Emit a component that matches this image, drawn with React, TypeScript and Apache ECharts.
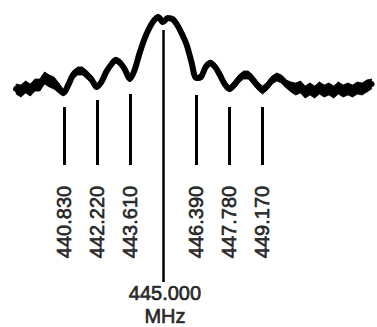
import React, { useEffect, useRef } from "react";
import * as echarts from "echarts";

// Spectrum trace sampled every 0.2 MHz starting at 438.8 MHz (relative amplitude)
const traceStartMHz = 438.8;
const traceStepMHz = 0.2;
const traceAmplitude = [
  1, -1, 3, 0, 5, 5, 12, 9, 7, 2,
  -3, 5, 15, 19, 19, 15, 10, 3, 8, 18,
  25, 30, 27, 20, 11, 20, 36, 50, 61, 69,
  73, 68, 72, 71, 65, 56, 45, 28, 12, 13,
  23, 27, 23, 15, 6, 1, 5, 11, 15, 15,
  10, 4, 0, 4, 10, 13, 11, 6, 3, 1,
  3, -2, 1, -2, 2, -1, 1, -2, 2, -1,
  1, -1, 2, 1, 4, 6,
];
// Half-width of the noise envelope around the trace at each sample
const traceNoise = [
  5, 6, 6, 6, 6, 6, 6, 6, 6, 5,
  3, 3, 4, 4, 4, 4, 4, 3, 3, 3,
  3, 3, 3, 3, 3, 2, 2, 2, 2, 2,
  2, 2, 2, 2, 2, 2, 2, 2, 2, 3,
  3, 3, 3, 3, 3, 3, 4, 4, 4, 4,
  4, 4, 4, 4, 4, 4, 4, 4, 5, 6,
  6, 6, 6, 6, 6, 6, 6, 6, 6, 6,
  6, 6, 6, 6, 6, 5,
];

// Marker lines (frequency in MHz)
const markerFreqs = [440.83, 442.22, 443.61, 445.0, 446.39, 447.78, 449.17];
const markerTop = [-17, -10, -4, 60, -5, -17, -17];
const markerBottom = [-75, -75, -75, -192, -75, -75, -75];
const markerLabels = ["440.830", "442.220", "443.610", "", "446.390", "447.780", "449.170"];
const centerLabel = "445.000\nMHz";

export default function App() {
  const ref = useRef<HTMLDivElement>(null);
  useEffect(() => {
    if (!ref.current) return;
    const chart = echarts.init(ref.current, null, { renderer: "svg" });
    const fx = (i: number) => +(traceStartMHz + i * traceStepMHz).toFixed(3);
    const trace = traceAmplitude.map((v, i) => [fx(i), v]);
    const band: number[][] = [];
    for (let i = 0; i < traceAmplitude.length - 1; i++) {
      band.push([
        fx(i),
        traceAmplitude[i] - traceNoise[i],
        traceAmplitude[i] + traceNoise[i],
        fx(i + 1),
        traceAmplitude[i + 1] - traceNoise[i + 1],
        traceAmplitude[i + 1] + traceNoise[i + 1],
      ]);
    }
    const lines = markerFreqs.map((f, i) => [
      { coord: [f, markerTop[i]], lineStyle: { width: i === 3 ? 2.5 : 3 } },
      { coord: [f, markerBottom[i]] },
    ]);
    const labelPts = markerFreqs
      .map((f, i) => ({ value: [f, -132], name: markerLabels[i] }))
      .filter((d) => d.name !== "");
    const font = "'Liberation Sans', Arial, Helvetica, sans-serif";
    const textStyle = {
      color: "#000",
      fontSize: 20,
      fontFamily: font,
      textBorderColor: "#000",
      textBorderWidth: 0.7,
    };
    chart.setOption({
      animation: false,
      backgroundColor: "#ffffff",
      grid: { left: 0, right: 0, top: 0, bottom: 0 },
      xAxis: { type: "value", min: 438.12, max: 454.03, show: false },
      yAxis: { type: "value", min: -237, max: 90, show: false },
      series: [
        {
          type: "custom",
          silent: true,
          data: band,
          encode: { x: [0, 3], y: [1, 2, 4, 5] },
          renderItem: (_params: any, api: any) => {
            const a = api.coord([api.value(0), api.value(1)]);
            const b = api.coord([api.value(3), api.value(4)]);
            const c = api.coord([api.value(3), api.value(5)]);
            const d = api.coord([api.value(0), api.value(2)]);
            return {
              type: "polygon",
              shape: { points: [a, b, c, d] },
              style: { fill: "#000", stroke: "#000", lineWidth: 0.8 },
            };
          },
        },
        {
          type: "line",
          data: trace,
          symbol: "none",
          smooth: 0.3,
          lineStyle: { color: "#000", width: 6, join: "round", cap: "round" },
          markLine: {
            silent: true,
            symbol: ["none", "none"],
            label: { show: false },
            lineStyle: { color: "#000", type: "solid", width: 3 },
            data: lines,
          },
        },
        {
          type: "scatter",
          symbolSize: 1,
          itemStyle: { color: "transparent" },
          data: labelPts,
          label: {
            show: true,
            position: "inside",
            rotate: 90,
            formatter: (p: any) => p.name,
            ...textStyle,
          },
        },
        {
          type: "scatter",
          symbolSize: 1,
          itemStyle: { color: "transparent" },
          data: [{ value: [445.08, -214], name: centerLabel }],
          label: {
            show: true,
            position: "inside",
            formatter: (p: any) => p.name,
            lineHeight: 23,
            align: "center",
            ...textStyle,
          },
        },
      ],
    });
    return () => chart.dispose();
  }, []);
  return (
    <div
      ref={ref}
      style={{ position: "absolute", left: 0, top: 0, width: 377, height: 327 }}
    />
  );
}
